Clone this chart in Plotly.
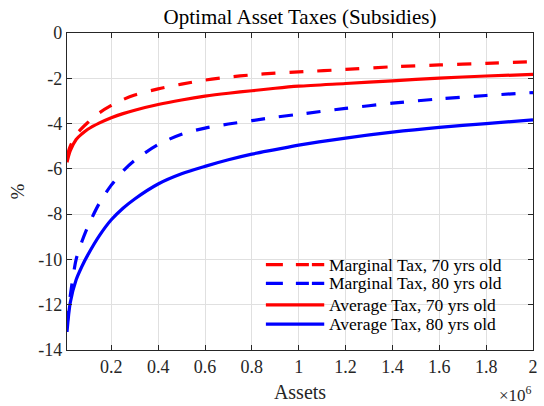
import plotly.graph_objects as go

# Asset grid (dollars) and tax rates (%) for each schedule
assets = [11000, 25000, 50000, 75000, 100000, 150000, 200000, 250000, 300000,
          400000, 500000, 600000, 700000, 800000, 900000, 1000000, 1200000,
          1400000, 1600000, 1800000, 2000000]

marginal_70 = [-5.45, -5.0, -4.5, -4.2, -3.95, -3.52, -3.2, -2.94, -2.74,
               -2.47, -2.26, -2.08, -1.95, -1.85, -1.77, -1.72, -1.61,
               -1.49, -1.41, -1.34, -1.27]
marginal_80 = [-12.9, -11.6, -10.0, -9.2, -8.55, -7.5, -6.72, -6.1, -5.62,
               -4.93, -4.47, -4.2, -4.02, -3.87, -3.72, -3.59, -3.33,
               -3.1, -2.91, -2.76, -2.63]
average_70 = [-5.71, -5.2, -4.7, -4.45, -4.25, -3.97, -3.74, -3.56, -3.41,
              -3.16, -2.96, -2.79, -2.66, -2.55, -2.44, -2.35, -2.23,
              -2.11, -1.99, -1.9, -1.83]
average_80 = [-13.2, -11.9, -10.9, -10.3, -9.8, -8.94, -8.25, -7.74, -7.33,
              -6.67, -6.22, -5.89, -5.6, -5.35, -5.15, -4.95, -4.64,
              -4.38, -4.17, -4.0, -3.84]

series_names = ["Marginal Tax, 70 yrs old", "Marginal Tax, 80 yrs old",
                "Average Tax, 70 yrs old", "Average Tax, 80 yrs old"]

x_tick_vals = [200000, 400000, 600000, 800000, 1000000, 1200000, 1400000,
               1600000, 1800000, 2000000]
x_tick_text = ["0.2", "0.4", "0.6", "0.8", "1", "1.2", "1.4", "1.6", "1.8", "2"]
y_tick_vals = [0, -2, -4, -6, -8, -10, -12, -14]
y_tick_text = ["0", "-2", "-4", "-6", "-8", "-10", "-12", "-14"]

FONT = "Liberation Serif"
AXIS = "#262626"
DASH = "14px,14px"
KEY_DASH = "17px,13px,13px,3px,13px"

colors = ["#ff0000", "#0000ff", "#ff0000", "#0000ff"]
dashes = [DASH, DASH, "solid", "solid"]
key_dashes = [KEY_DASH, KEY_DASH, "solid", "solid"]

fig = go.Figure()
for name, ys, color, dash in zip(series_names,
                                 [marginal_70, marginal_80, average_70, average_80],
                                 colors, dashes):
    fig.add_trace(go.Scatter(
        x=assets, y=ys, name=name, mode="lines", showlegend=False,
        line=dict(color=color, width=3.2, dash=dash, shape="spline", smoothing=0.8),
    ))

fig.update_layout(
    width=544, height=406,
    margin=dict(l=67, r=6, t=33, b=54),
    paper_bgcolor="white", plot_bgcolor="white",
    font=dict(family=FONT, size=17, color=AXIS),
    title=dict(text="Optimal Asset Taxes (Subsidies)", xref="paper", x=0.5,
               xanchor="center", yref="container", y=0.96, yanchor="middle",
               font=dict(family=FONT, size=21, color="black")),
    showlegend=False,
)

fig.update_xaxes(
    range=[11000, 2000000], tickvals=x_tick_vals, ticktext=x_tick_text,
    showgrid=True, gridcolor="#e0e0e0", gridwidth=1, zeroline=False,
    showline=True, linecolor=AXIS, linewidth=1.3, mirror="ticks",
    ticks="inside", ticklen=5, tickcolor=AXIS, tickwidth=1.2,
    tickfont=dict(family=FONT, size=18, color=AXIS),
    title=dict(text="Assets", standoff=9, font=dict(family=FONT, size=20, color=AXIS)),
)
fig.update_yaxes(
    range=[-14, 0], tickvals=y_tick_vals, ticktext=y_tick_text,
    showgrid=True, gridcolor="#e0e0e0", gridwidth=1, zeroline=False,
    showline=True, linecolor=AXIS, linewidth=1.3, mirror="ticks",
    ticks="inside", ticklen=5, tickcolor=AXIS, tickwidth=1.2,
    tickfont=dict(family=FONT, size=18, color=AXIS),
    title=dict(text="%", standoff=8, font=dict(family=FONT, size=19, color=AXIS)),
)

# Legend: line keys and labels at the lower right of the axes
key_x0, key_x1, label_x = 0.4268, 0.552, 0.5605
key_rows = [0.2696, 0.210, 0.1426, 0.0815]
for name, color, kdash, ky in zip(series_names, colors, key_dashes, key_rows):
    fig.add_shape(type="line", xref="paper", yref="paper",
                  x0=key_x0, x1=key_x1, y0=ky, y1=ky,
                  line=dict(color=color, width=3.2, dash=kdash))
    fig.add_annotation(text=name, xref="paper", yref="paper", x=label_x, y=ky,
                       xanchor="left", yanchor="middle", showarrow=False,
                       borderpad=0, font=dict(family=FONT, size=17.5, color="black"))

# Exponent marker for the x axis scale
fig.add_annotation(text="×10<sup>6</sup>", xref="paper", yref="paper",
                   x=1.0, y=-0.138, xanchor="right", yanchor="middle", showarrow=False,
                   borderpad=0, font=dict(family=FONT, size=17, color=AXIS))

fig.write_html("out.html")
